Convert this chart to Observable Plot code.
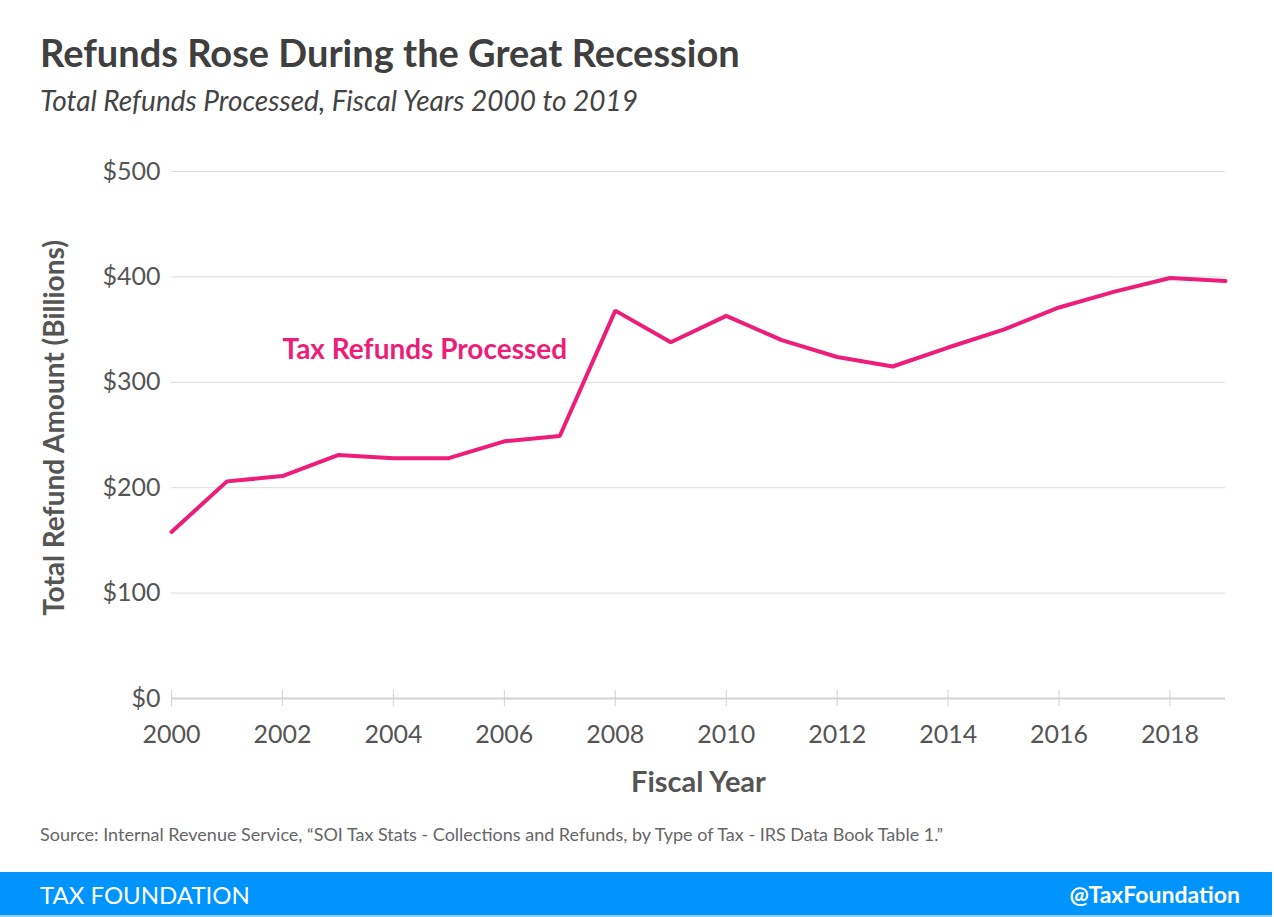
<!DOCTYPE html>
<html><head><meta charset="utf-8">
<script src="https://cdn.jsdelivr.net/npm/d3@7"></script>
<script src="https://cdn.jsdelivr.net/npm/@observablehq/plot@0.6"></script>
<style>
body{margin:0;background:#fff;font-family:Lato,"Noto Sans",sans-serif}
#wrap{position:relative;width:1274px;height:917px;overflow:hidden;background:#fff}
#title{position:absolute;left:40px;top:29px;font-size:38px;font-weight:700;color:#3f3f3f;white-space:nowrap}
#subtitle{position:absolute;left:40px;top:83px;font-size:28px;font-style:italic;color:#444;white-space:nowrap}
#chart{position:absolute;left:0;top:140px}
#source{position:absolute;left:40px;top:823px;font-size:18px;color:#666;white-space:nowrap}
#footer{position:absolute;left:0;top:872px;width:1272px;height:43px;background:#0094ff;color:#fff;border-bottom:2px solid #8fd0ff}
#footer .l{position:absolute;left:40px;top:8px;font-size:24px}
#footer .r{position:absolute;right:32px;top:8px;font-size:23px;font-weight:700}
</style></head><body>
<div id="wrap">
<div id="title">Refunds Rose During the Great Recession</div>
<div id="subtitle">Total Refunds Processed, Fiscal Years 2000 to 2019</div>
<div id="chart"></div>
<div id="source">Source: Internal Revenue Service, “SOI Tax Stats - Collections and Refunds, by Type of Tax - IRS Data Book Table 1.”</div>
<div id="footer"><span class="l">TAX FOUNDATION</span><span class="r">@TaxFoundation</span></div>
</div>
<script>
const years = [2000,2001,2002,2003,2004,2005,2006,2007,2008,2009,2010,2011,2012,2013,2014,2015,2016,2017,2018,2019];
const refunds = [158,206,211,231,228,228,244,249,368,338,363,340,324,315,333,350,371,386,399,396];
const yTicks = [0,100,200,300,400,500];
const xTicks = [2000,2002,2004,2006,2008,2010,2012,2014,2016,2018];
const seriesLabel = "Tax Refunds Processed";
const labelPos = {year: 2002, value: 331};
const yTitle = "Total Refund Amount (Billions)";
const xTitle = "Fiscal Year";

const data = years.map((y, i) => ({year: y, value: refunds[i]}));
const pink = "#ed1e79";

const chart = Plot.plot({
  width: 1274, height: 670,
  marginTop: 31, marginBottom: 112, marginLeft: 171, marginRight: 49,
  style: {fontFamily: "Lato, 'Noto Sans', sans-serif", background: "transparent", overflow: "visible"},
  x: {domain: [2000, 2019]},
  y: {domain: [0, 500]},
  marks: [
    Plot.ruleY(yTicks.filter(d => d > 0), {stroke: "#dddddd", strokeWidth: 1}),
    Plot.ruleY([0], {stroke: "#d2d2d2", strokeWidth: 2}),
    Plot.axisY({ticks: yTicks, tickSize: 0, tickPadding: 11, tickFormat: d => "$" + d, fontSize: 25, fill: "#555", label: null}),
    Plot.axisX({ticks: xTicks, tickSize: 16, dy: -8, tickPadding: 19, tickFormat: d => String(d), fontSize: 25, fill: "#555", stroke: "#d2d2d2", label: null}),
    Plot.line(data, {x: "year", y: "value", stroke: pink, strokeWidth: 4, strokeLinejoin: "miter"}),
    Plot.text([labelPos], {x: "year", y: "value", text: () => seriesLabel, textAnchor: "start", fontSize: 28, fontWeight: "bold", fill: pink}),
    Plot.text([yTitle], {frameAnchor: "left", textAnchor: "middle", rotate: -90, dx: -116, dy: -7, fontSize: 28, fontWeight: "bold", fill: "#555"}),
    Plot.text([xTitle], {frameAnchor: "bottom", textAnchor: "middle", dy: 93, fontSize: 29, fontWeight: "bold", fill: "#555"})
  ]
});
document.getElementById("chart").appendChild(chart);
</script>
</body></html>
